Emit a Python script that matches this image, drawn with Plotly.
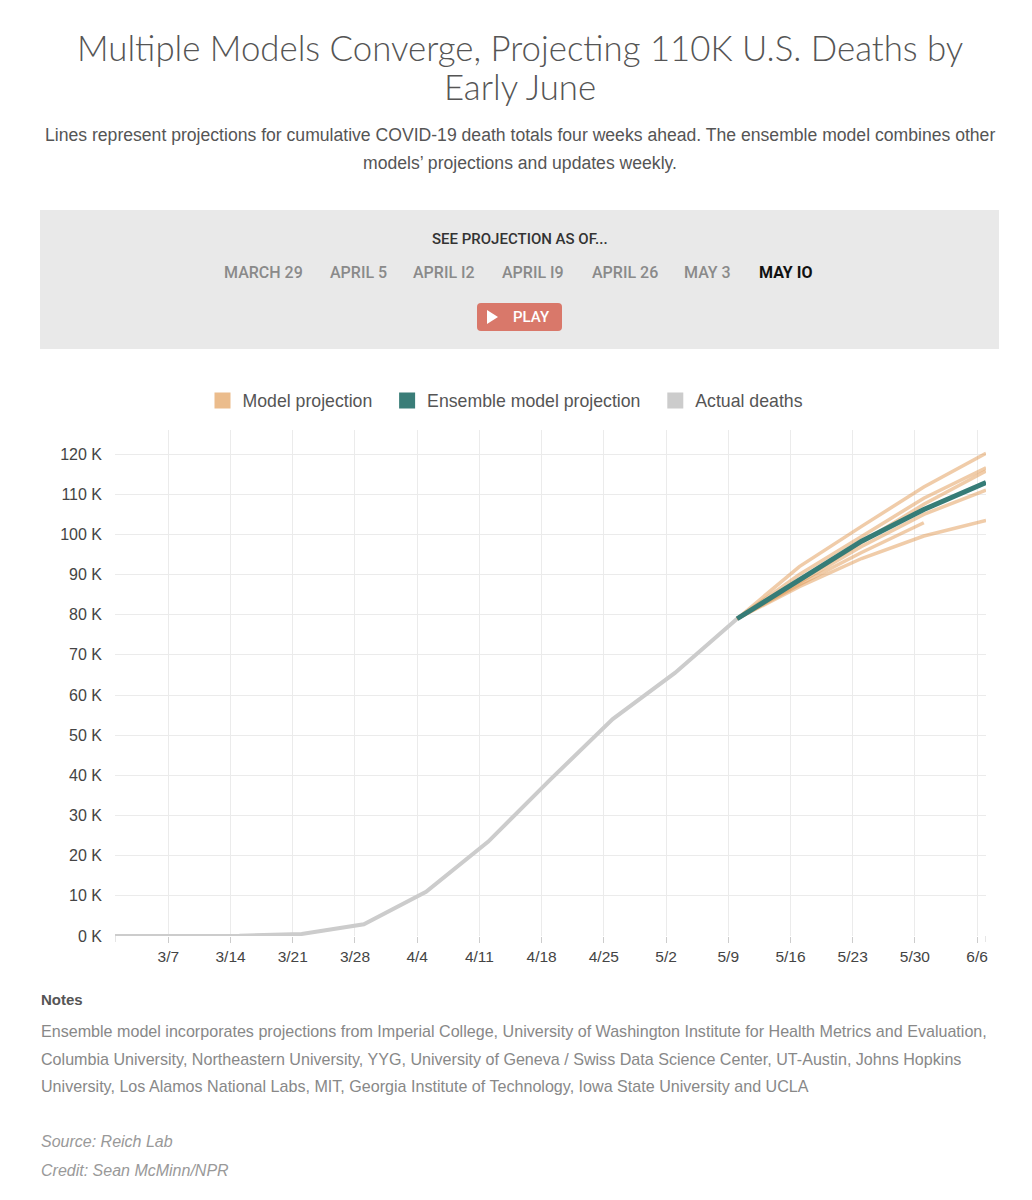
import plotly.graph_objects as go

# weekly actual cumulative deaths (Sundays)
actual_dates = ['2020-03-01', '2020-03-08', '2020-03-15', '2020-03-22', '2020-03-29', '2020-04-05',
                '2020-04-12', '2020-04-19', '2020-04-26', '2020-05-03', '2020-05-10']
actual_deaths = [10, 30, 60, 500, 2900, 11000, 23500, 39000, 54000, 65500, 79000]

proj_dates = ['2020-05-10', '2020-05-17', '2020-05-24', '2020-05-31', '2020-06-07']
ensemble = [79000, 88800, 98300, 106200, 112900]
model_a = [79000, 92000, 102000, 111800, 120200]
model_b = [79000, 90000, 99500, 109000, 116600]
model_c = [79000, 88500, 98000, 107500, 115800]
model_d = [79000, 88000, 97000, 105000, 111000]
model_e = [79000, 87500, 95500, 102900]
model_f = [79000, 87000, 94000, 99600, 103500]
models = [model_a, model_b, model_c, model_d, model_e, model_f]

tick_dates = ['2020-03-07', '2020-03-14', '2020-03-21', '2020-03-28', '2020-04-04', '2020-04-11', '2020-04-18',
              '2020-04-25', '2020-05-02', '2020-05-09', '2020-05-16', '2020-05-23', '2020-05-30', '2020-06-06']
tick_labels = ['3/7', '3/14', '3/21', '3/28', '4/4', '4/11', '4/18', '4/25', '5/2', '5/9', '5/16', '5/23', '5/30', '6/6']
y_ticks = list(range(0, 130000, 10000))
y_labels = [str(v // 1000) + ' K' for v in y_ticks]

week_buttons = ['MARCH 29', 'APRIL 5', 'APRIL I2', 'APRIL I9', 'APRIL 26', 'MAY 3', 'MAY IO']
button_x = [263, 358, 444, 533, 625, 707, 785]

title_lines = ['Multiple Models Converge, Projecting 110K U.S. Deaths by', 'Early June']
subtitle_lines = ['Lines represent projections for cumulative COVID-19 death totals four weeks ahead. '
                  'The ensemble model combines other', 'models\u2019 projections and updates weekly.']
note_lines = ['Ensemble model incorporates projections from Imperial College, University of Washington Institute for Health Metrics and Evaluation,',
              'Columbia University, Northeastern University, YYG, University of Geneva / Swiss Data Science Center, UT-Austin, Johns Hopkins',
              'University, Los Alamos National Labs, MIT, Georgia Institute of Technology, Iowa State University and UCLA']

ORANGE = '#E29A55'
TEAL = '#367C77'
GREY = '#CCCCCC'

# plot area in pixels
PL, PR, PT, PB = 115, 986, 430, 936


def px(x):
    return (x - PL) / (PR - PL)


def py(y):
    return (PB - y) / (PB - PT)


fig = go.Figure()
fig.add_trace(go.Scatter(x=actual_dates, y=actual_deaths, mode='lines',
                         line=dict(color=GREY, width=4), showlegend=False, name='Actual deaths'))
for m in models:
    fig.add_trace(go.Scatter(x=proj_dates[:len(m)], y=m, mode='lines',
                             line=dict(color=ORANGE, width=3.5), opacity=0.5,
                             showlegend=False, name='Model projection'))
fig.add_trace(go.Scatter(x=proj_dates, y=ensemble, mode='lines',
                         line=dict(color=TEAL, width=5), showlegend=False, name='Ensemble model projection'))

# legend entries
for name, col in [('Model projection', '#EBBC8C'), ('Ensemble model projection', '#3A7D78'),
                  ('Actual deaths', GREY)]:
    fig.add_trace(go.Scatter(x=[None], y=[None], mode='markers', name=name + '\u00a0\u00a0',
                             marker=dict(symbol='square', size=20, color=col)))

ann = []
for line, yy in zip(title_lines, [48, 87]):
    ann.append(dict(text=line, x=px(520), y=py(yy),
                    font=dict(family='Lato', size=34.8, color='#555555', weight=300)))
for line, yy in zip(subtitle_lines, [135, 163]):
    ann.append(dict(text=line, x=px(520), y=py(yy),
                    font=dict(family='Liberation Sans', size=17.6, color='#555555')))
ann.append(dict(text='SEE PROJECTION AS OF...', x=px(520), y=py(239),
                font=dict(family='Roboto', size=15, color='#333333', weight=500)))
for lab, bx in zip(week_buttons, button_x):
    last = lab == week_buttons[-1]
    ann.append(dict(text=lab, x=px(bx), y=py(272),
                    font=dict(family='Roboto', size=16, color='#111111' if last else '#8A8A8A',
                              weight=700 if last else 500)))
ann.append(dict(text='PLAY', x=px(531), y=py(317), font=dict(family='Roboto', size=15, color='white', weight=500)))
ann.append(dict(text='<b>Notes</b>', x=px(39), y=py(999), xanchor='left',
                font=dict(family='Liberation Sans', size=15, color='#555555')))
for line, yy in zip(note_lines, [1031, 1059, 1086]):
    ann.append(dict(text=line, x=px(39), y=py(yy), xanchor='left',
                    font=dict(family='Liberation Sans', size=16.1, color='#888888')))
ann.append(dict(text='<i>Source: Reich Lab</i>', x=px(39), y=py(1141), xanchor='left',
                font=dict(family='Liberation Sans', size=16, color='#999999')))
ann.append(dict(text='<i>Credit: Sean McMinn/NPR</i>', x=px(39), y=py(1170), xanchor='left',
                font=dict(family='Liberation Sans', size=16, color='#999999')))
for a in ann:
    a.update(xref='paper', yref='paper', showarrow=False, yanchor='middle')
    a.setdefault('xanchor', 'center')


def rounded_rect(x0, y0, x1, y1, r):
    pts = 'M {},{} L {},{} Q {},{} {},{} L {},{} Q {},{} {},{} L {},{} Q {},{} {},{} L {},{} Q {},{} {},{} Z'
    coords = [(x0 + r, y0), (x1 - r, y0), (x1, y0), (x1, y0 + r), (x1, y1 - r), (x1, y1), (x1 - r, y1),
              (x0 + r, y1), (x0, y1), (x0, y1 - r), (x0, y0 + r), (x0, y0), (x0 + r, y0)]
    flat = []
    for cx, cy in coords:
        flat += [px(cx), py(cy)]
    return pts.format(*flat)


shapes = [
    dict(type='rect', xref='paper', yref='paper', x0=px(40), x1=px(999), y0=py(349), y1=py(210),
         fillcolor='#E9E9E9', line=dict(width=0), layer='below'),
    dict(type='path', xref='paper', yref='paper', path=rounded_rect(477, 303, 562, 331, 4),
         fillcolor='#D9786A', line=dict(width=0)),
    dict(type='path', xref='paper', yref='paper',
         path='M {},{} L {},{} L {},{} Z'.format(px(487), py(310), px(487), py(324), px(498), py(317)),
         fillcolor='white', line=dict(width=0)),
]
for d in ['2020-03-01', '2020-06-07']:
    shapes.append(dict(type='line', xref='x', yref='paper', x0=d, x1=d, y0=0, y1=-6 / (PB - PT),
                       line=dict(color='#CCCCCC', width=1)))

fig.update_layout(
    width=1032, height=1200,
    margin=dict(l=PL, r=1032 - PR, t=PT, b=1200 - PB),
    paper_bgcolor='white', plot_bgcolor='white',
    font=dict(family='Liberation Sans', color='#444444'),
    annotations=ann, shapes=shapes,
    legend=dict(orientation='h', x=px(510), xanchor='center', y=py(401), yanchor='middle',
                font=dict(size=17.7, color='#555555'), itemclick=False),
    xaxis=dict(type='date', range=['2020-03-01', '2020-06-07'], tickvals=tick_dates, ticktext=tick_labels,
               showgrid=True, gridcolor='#EBEBEB', ticks='outside', ticklen=6, tickcolor='#CCCCCC',
               tickfont=dict(size=15.5, color='#444444'), zeroline=False, showline=False, fixedrange=True),
    yaxis=dict(range=[0, 126000], tickvals=y_ticks, ticktext=y_labels, showgrid=True, gridcolor='#EBEBEB',
               tickfont=dict(size=16, color='#444444'), zeroline=False, showline=False,
               ticklabelstandoff=12, fixedrange=True),
)

fig.write_html('out.html', config={'displayModeBar': False},
               post_script="document.body.style.margin='0';")
